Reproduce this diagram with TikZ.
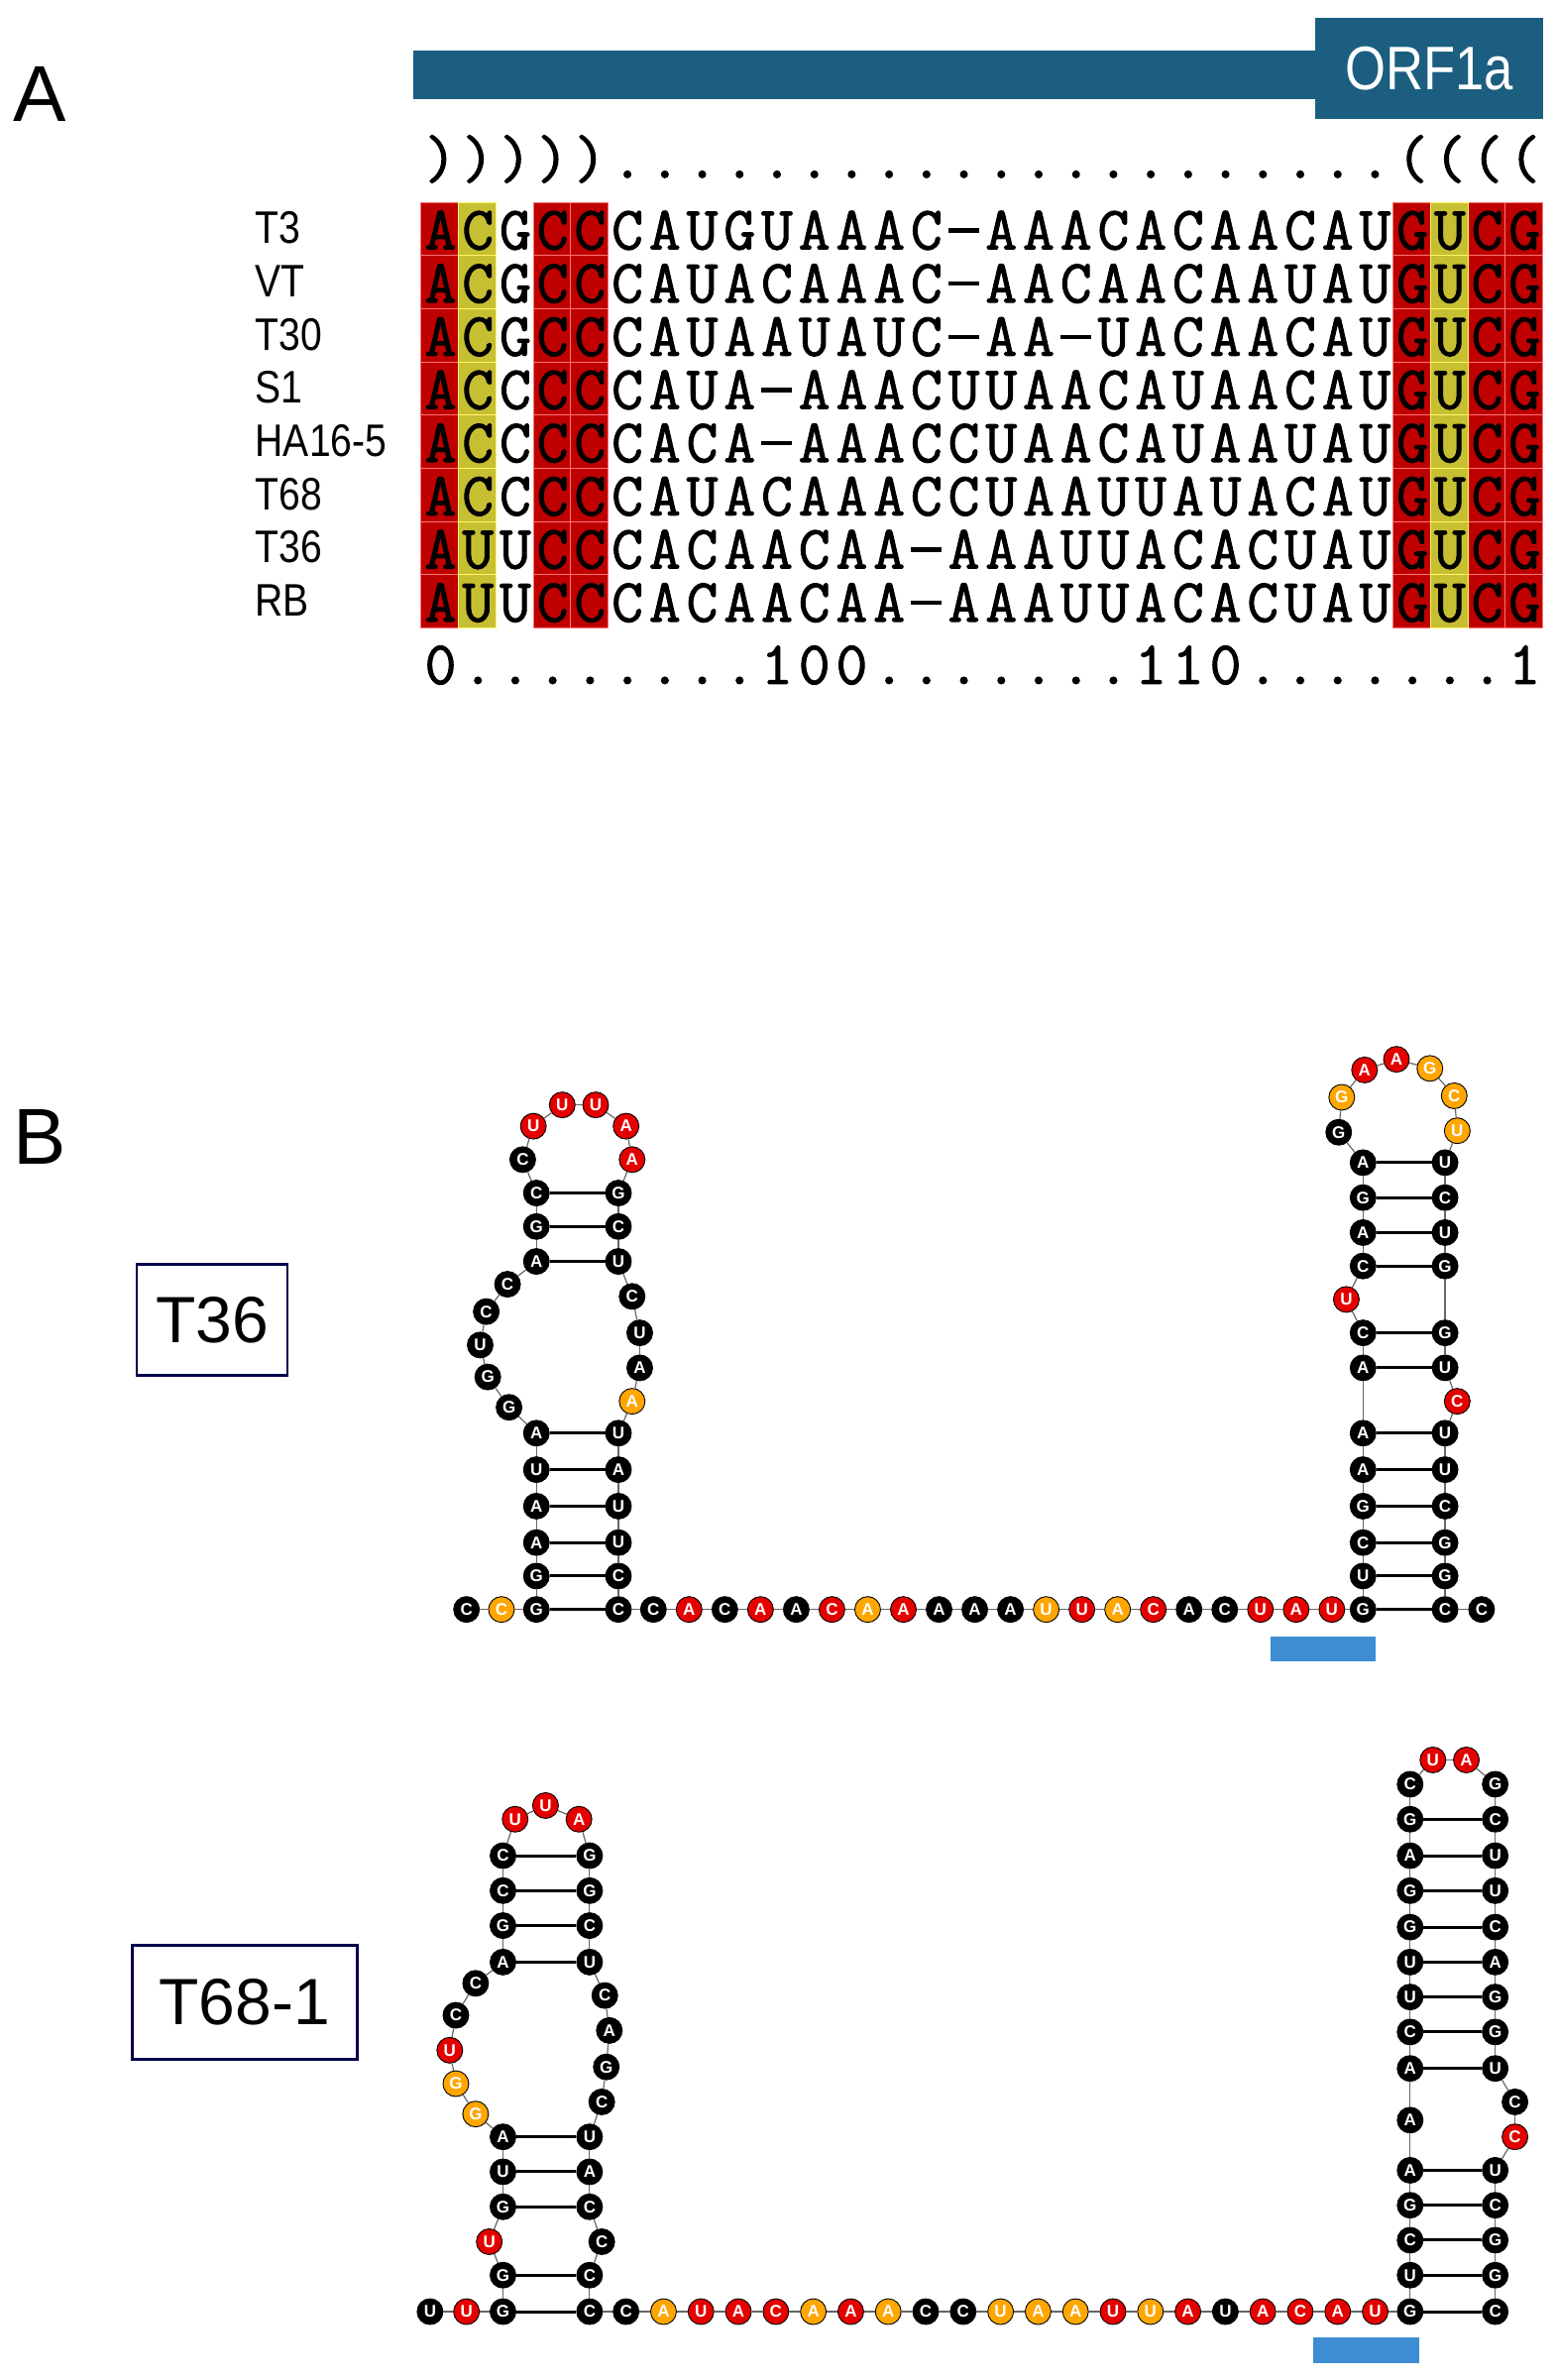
\documentclass[tikz,border=0pt]{standalone}
\usepackage{fontspec}
\newfontfamily\arialf{Liberation Sans}
\newfontfamily\seqf{Latin Modern Mono}[AutoFakeBold=1.6]
\def\LP{(}\def\RP{)}\def\DT{.}\def\DS{\rule[0.27em]{0.5em}{0.07em}}
\begin{document}
\begin{tikzpicture}[x=1.5332pt,y=-1.5332pt,
  nt/.style={circle,draw=black,line width=0.9pt,minimum size=26pt,inner sep=0pt,
    font=\arialf\bfseries\fontsize{17}{17}\selectfont,text=white},
  k/.style={fill=black},
  r/.style={fill=red!90!black},
  o/.style={fill=orange!70!yellow},
  bb/.style={draw=black!60,line width=1.2pt},
  bp/.style={draw=black,line width=3pt},
  seq/.style={font=\seqf\bfseries\fontsize{62}{62}\selectfont,inner sep=0pt,anchor=base,
    text height=36pt,text depth=0pt,text width=30pt,align=center},
  lab/.style={font=\arialf\fontsize{46}{46}\selectfont,xscale=0.85,anchor=west,inner sep=0pt},
  cellR/.style={fill=red!75!black,draw=red!55!white,line width=0.5pt},
  cellY/.style={fill=yellow!75!black,draw=yellow!60!white,line width=0.5pt},
  box/.style={draw=black!70!blue,line width=2.5pt,font=\arialf\fontsize{66}{66}\selectfont,inner sep=0pt},
  cbar/.style={fill=cyan!60!blue!80!white}
]
\useasboundingbox (0,0) rectangle (1024,1566);
% ---------------- Panel A
\node[font=\arialf\fontsize{80}{80}\selectfont] (lA) at (26,62) {A};
\fill[fill={rgb,255:red,27;green,94;blue,128}] (272,33) rectangle (866,65);
\node[fill={rgb,255:red,27;green,94;blue,128},minimum width=150*1.5332pt,minimum height=66*1.5332pt,inner sep=0pt,
  text=white,font=\arialf\fontsize{62}{62}\selectfont] (orf) at (940.5,45) {\scalebox{0.85}[1]{ORF1a}};
% cells
\foreach \c in {1,4,5,27,29,30}{
  \foreach \r in {0,...,7}{
    \filldraw[cellR] ({277+24.6*(\c-1)},{133+35*\r}) rectangle ++(24.6,35);}}
\foreach \c in {2,28}{
  \foreach \r in {0,...,7}{
    \filldraw[cellY] ({277+24.6*(\c-1)},{133+35*\r}) rectangle ++(24.6,35);}}
% header
\foreach \ch [count=\i] in {\RP,\RP,\RP,\RP,\RP,\DT,\DT,\DT,\DT,\DT,\DT,\DT,\DT,\DT,\DT,\DT,\DT,\DT,\DT,\DT,\DT,\DT,\DT,\DT,\DT,\DT,\LP,\LP,\LP,\LP}
  \node[seq] (h\i) at ({277+24.6*(\i-0.5)},117) {\ch};
% number line
\foreach \ch [count=\i] in {0,\DT,\DT,\DT,\DT,\DT,\DT,\DT,\DT,1,0,0,\DT,\DT,\DT,\DT,\DT,\DT,\DT,1,1,0,\DT,\DT,\DT,\DT,\DT,\DT,\DT,1}
  \node[seq] (n\i) at ({277+24.6*(\i-0.5)},450) {\ch};
% sequences
\def\row#1#2#3{\foreach \ch [count=\i] in {#3}
  \node[seq] (s#1c\i) at ({277+24.6*(\i-0.5)},{164+35*#2}) {\ch};}
\row{1}{0}{A,C,G,C,C,C,A,U,G,U,A,A,A,C,\DS,A,A,A,C,A,C,A,A,C,A,U,G,U,C,G}
\row{2}{1}{A,C,G,C,C,C,A,U,A,C,A,A,A,C,\DS,A,A,C,A,A,C,A,A,U,A,U,G,U,C,G}
\row{3}{2}{A,C,G,C,C,C,A,U,A,A,U,A,U,C,\DS,A,A,\DS,U,A,C,A,A,C,A,U,G,U,C,G}
\row{4}{3}{A,C,C,C,C,C,A,U,A,\DS,A,A,A,C,U,U,A,A,C,A,U,A,A,C,A,U,G,U,C,G}
\row{5}{4}{A,C,C,C,C,C,A,C,A,\DS,A,A,A,C,C,U,A,A,C,A,U,A,A,U,A,U,G,U,C,G}
\row{6}{5}{A,C,C,C,C,C,A,U,A,C,A,A,A,C,C,U,A,A,U,U,A,U,A,C,A,U,G,U,C,G}
\row{7}{6}{A,U,U,C,C,C,A,C,A,A,C,A,A,\DS,A,A,A,U,U,A,C,A,C,U,A,U,G,U,C,G}
\row{8}{7}{A,U,U,C,C,C,A,C,A,A,C,A,A,\DS,A,A,A,U,U,A,C,A,C,U,A,U,G,U,C,G}
\foreach \t [count=\i from 0] in {T3,VT,T30,S1,HA16-5,T68,T36,RB}
  \node[lab] (l\i) at (168,{150+35*\i}) {\t};
% ---------------- Panel B
\node[font=\arialf\fontsize{80}{80}\selectfont] (lB) at (26,748) {B};
\node[box,minimum width=99*1.5332pt,minimum height=73*1.5332pt] (t36) at (139.5,868.5) {T36};
\node[box,minimum width=148*1.5332pt,minimum height=75*1.5332pt] (t68) at (161,1317.5) {T68-1};
\fill[cbar] (836,1077) rectangle (905,1093);
\fill[cbar] (864,1538) rectangle (934,1555);
% T36
\def\N#1#2#3#4#5{\node[nt,#5] (#1) at (#2,#3) {#4};}
\N{a1}{307}{1059}{C}{k}\N{a2}{330}{1059}{C}{o}\N{a3}{353}{1059}{G}{k}
\N{a4}{353}{1037}{G}{k}\N{a5}{353}{1015}{A}{k}\N{a6}{353}{991}{A}{k}
\N{a7}{353}{967}{U}{k}\N{a8}{353}{943}{A}{k}\N{a9}{335}{926}{G}{k}
\N{a10}{321}{906}{G}{k}\N{a11}{316}{885}{U}{k}\N{a12}{320}{863}{C}{k}
\N{a13}{334}{845}{C}{k}\N{a14}{353}{830}{A}{k}\N{a15}{353}{807}{G}{k}
\N{a16}{353}{785}{C}{k}\N{a17}{344}{763}{C}{k}\N{a18}{351}{741}{U}{r}
\N{a19}{370}{727}{U}{r}\N{a20}{392}{727}{U}{r}\N{a21}{412}{741}{A}{r}
\N{a22}{416}{763}{A}{r}\N{a23}{407}{785}{G}{k}\N{a24}{407}{807}{C}{k}
\N{a25}{407}{830}{U}{k}\N{a26}{416}{853}{C}{k}\N{a27}{421}{877}{U}{k}
\N{a28}{421}{900}{A}{k}\N{a29}{416}{922}{A}{o}\N{a30}{407}{943}{U}{k}
\N{a31}{407}{967}{A}{k}\N{a32}{407}{991}{U}{k}\N{a33}{407}{1015}{U}{k}
\N{a34}{407}{1037}{C}{k}\N{a35}{407}{1059}{C}{k}
\foreach \l/\c [count=\i from 0] in {C/k,A/r,C/k,A/r,A/k,C/r,A/o,A/r,A/k,A/k,A/k,U/o,U/r,A/o,C/r,A/k,C/k,U/r,A/r,U/r}{
  \pgfmathtruncatemacro\n{36+\i}
  \node[nt,\c] (a\n) at ({430+23.5*\i},1059) {\l};}
\N{a56}{897}{1059}{G}{k}\N{a57}{897}{1037}{U}{k}\N{a58}{897}{1015}{C}{k}
\N{a59}{897}{991}{G}{k}\N{a60}{897}{967}{A}{k}\N{a61}{897}{943}{A}{k}
\N{a62}{897}{900}{A}{k}\N{a63}{897}{877}{C}{k}\N{a64}{886}{855}{U}{r}
\N{a65}{897}{833}{C}{k}\N{a66}{897}{811}{A}{k}\N{a67}{897}{788}{G}{k}
\N{a68}{897}{765}{A}{k}\N{a69}{881}{745}{G}{k}\N{a70}{883}{722}{G}{o}
\N{a71}{898}{704}{A}{r}\N{a72}{919}{697}{A}{r}\N{a73}{941}{703}{G}{o}
\N{a74}{957}{721}{C}{o}\N{a75}{959}{744}{U}{o}\N{a76}{951}{765}{U}{k}
\N{a77}{951}{788}{C}{k}\N{a78}{951}{811}{U}{k}\N{a79}{951}{833}{G}{k}
\N{a80}{951}{877}{G}{k}\N{a81}{951}{900}{U}{k}\N{a82}{959}{922}{C}{r}
\N{a83}{951}{943}{U}{k}\N{a84}{951}{967}{U}{k}\N{a85}{951}{991}{C}{k}
\N{a86}{951}{1015}{G}{k}\N{a87}{951}{1037}{G}{k}\N{a88}{951}{1059}{C}{k}
\N{a89}{975}{1059}{C}{k}
\foreach \i in {1,...,88}{\pgfmathtruncatemacro\j{\i+1}\draw[bb] (a\i) -- (a\j);}
\foreach \p/\q in {3/35,4/34,5/33,6/32,7/31,8/30,14/25,15/24,16/23,56/88,57/87,58/86,59/85,60/84,61/83,62/81,63/80,65/79,66/78,67/77,68/76}
  \draw[bp] (a\p) -- (a\q);
% T68
\N{b1}{283}{1521}{U}{k}\N{b2}{307}{1521}{U}{r}\N{b3}{331}{1521}{G}{k}
\N{b4}{331}{1497}{G}{k}\N{b5}{322}{1475}{U}{r}\N{b6}{331}{1452}{G}{k}
\N{b7}{331}{1429}{U}{k}\N{b8}{331}{1406}{A}{k}\N{b9}{313}{1391}{G}{o}
\N{b10}{300}{1371}{G}{o}\N{b11}{296}{1349}{U}{r}\N{b12}{300}{1326}{C}{k}
\N{b13}{313}{1305}{C}{k}\N{b14}{331}{1291}{A}{k}\N{b15}{331}{1267}{G}{k}
\N{b16}{331}{1244}{C}{k}\N{b17}{331}{1221}{C}{k}\N{b18}{339}{1197}{U}{r}
\N{b19}{359}{1188}{U}{r}\N{b20}{381}{1197}{A}{r}\N{b21}{388}{1221}{G}{k}
\N{b22}{388}{1244}{G}{k}\N{b23}{388}{1267}{C}{k}\N{b24}{388}{1291}{U}{k}
\N{b25}{398}{1313}{C}{k}\N{b26}{401}{1336}{A}{k}\N{b27}{399}{1360}{G}{k}
\N{b28}{396}{1383}{C}{k}\N{b29}{388}{1406}{U}{k}\N{b30}{388}{1429}{A}{k}
\N{b31}{388}{1452}{C}{k}\N{b32}{396}{1475}{C}{k}\N{b33}{388}{1497}{C}{k}
\N{b34}{388}{1521}{C}{k}
\foreach \l/\c [count=\i from 0] in {C/k,A/o,U/r,A/r,C/r,A/o,A/r,A/o,C/k,C/k,U/o,A/o,A/o,U/r,U/o,A/r,U/k,A/r,C/r,A/r,U/r}{
  \pgfmathtruncatemacro\n{35+\i}
  \node[nt,\c] (b\n) at ({412+24.65*\i},1521) {\l};}
\N{b56}{928}{1521}{G}{k}\N{b57}{928}{1497}{U}{k}\N{b58}{928}{1474}{C}{k}
\N{b59}{928}{1451}{G}{k}\N{b60}{928}{1428}{A}{k}\N{b61}{928}{1395}{A}{k}
\N{b62}{928}{1361}{A}{k}\N{b63}{928}{1337}{C}{k}\N{b64}{928}{1314}{U}{k}
\N{b65}{928}{1291}{U}{k}\N{b66}{928}{1268}{G}{k}\N{b67}{928}{1244}{G}{k}
\N{b68}{928}{1221}{A}{k}\N{b69}{928}{1197}{G}{k}\N{b70}{928}{1174}{C}{k}
\N{b71}{943}{1158}{U}{r}\N{b72}{965}{1158}{A}{r}\N{b73}{984}{1174}{G}{k}
\N{b74}{984}{1197}{C}{k}\N{b75}{984}{1221}{U}{k}\N{b76}{984}{1244}{U}{k}
\N{b77}{984}{1268}{C}{k}\N{b78}{984}{1291}{A}{k}\N{b79}{984}{1314}{G}{k}
\N{b80}{984}{1337}{G}{k}\N{b81}{984}{1361}{U}{k}\N{b82}{997}{1383}{C}{k}
\N{b83}{997}{1406}{C}{r}\N{b84}{984}{1428}{U}{k}\N{b85}{984}{1451}{C}{k}
\N{b86}{984}{1474}{G}{k}\N{b87}{984}{1497}{G}{k}\N{b88}{984}{1521}{C}{k}
\foreach \i in {1,...,87}{\pgfmathtruncatemacro\j{\i+1}\draw[bb] (b\i) -- (b\j);}
\foreach \p/\q in {3/34,4/33,6/31,7/30,8/29,14/24,15/23,16/22,17/21,56/88,57/87,58/86,59/85,60/84,62/81,63/80,64/79,65/78,66/77,67/76,68/75,69/74}
  \draw[bp] (b\p) -- (b\q);
\end{tikzpicture}
\end{document}
